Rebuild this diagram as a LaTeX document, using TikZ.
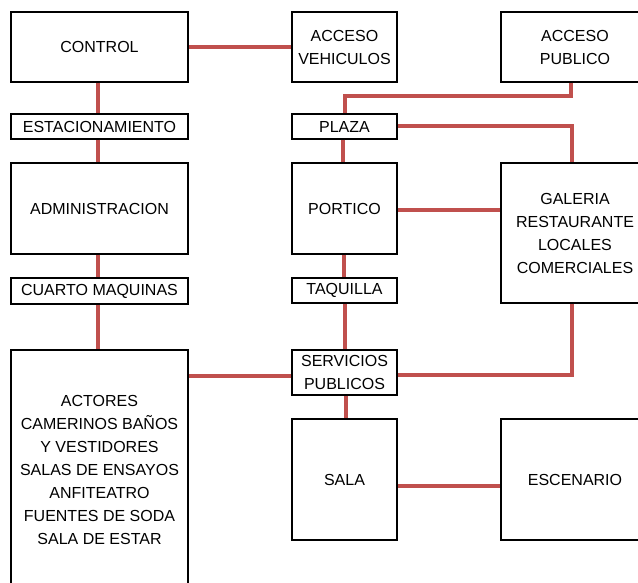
\documentclass[tikz,border=0pt]{standalone}
\usepackage{fontspec}
\setmainfont{Liberation Sans}
\definecolor{conn}{HTML}{C0504D}
\tikzset{
  box/.style={draw=black, line width=1.5pt, fill=white, inner sep=0pt, align=center,
    font=\fontsize{16}{23}\selectfont},
  link/.style={draw=conn, line width=4pt}
}
\begin{document}
\begin{tikzpicture}[x=1pt,y=-1pt]
\useasboundingbox (0,0) rectangle (638,583);
\clip (0,0) rectangle (638,583);
\fill[white] (0,0) rectangle (638,583);
% boxes
\node[box, minimum width=177, minimum height=70] (control) at (99.5,47) {CONTROL};
\node[box, minimum width=105, minimum height=70] (acv) at (344.5,47) {ACCESO\\VEHICULOS};
\node[box, minimum width=148, minimum height=70] (acp) at (575,47) {ACCESO\\PUBLICO};
\node[box, minimum width=177, minimum height=25] (estac) at (99.5,126.5) {ESTACIONAMIENTO};
\node[box, minimum width=105, minimum height=25] (plaza) at (344.5,126.5) {PLAZA};
\node[box, minimum width=177, minimum height=91] (admin) at (99.5,208.5) {ADMINISTRACION};
\node[box, minimum width=105, minimum height=91] (portico) at (344.5,208.5) {PORTICO};
\node[box, minimum width=148, minimum height=140] (galeria) at (575,233) {GALERIA\\RESTAURANTE\\LOCALES\\COMERCIALES};
\node[box, minimum width=177, minimum height=26] (cuarto) at (99.5,291) {CUARTO MAQUINAS};
\node[box, minimum width=105, minimum height=25] (taquilla) at (344.5,290.5) {TAQUILLA};
\node[box, minimum width=177, minimum height=240] (actores) at (99.5,470) {ACTORES\\CAMERINOS BAÑOS\\Y VESTIDORES\\SALAS DE ENSAYOS\\ANFITEATRO\\FUENTES DE SODA\\SALA DE ESTAR};
\node[box, minimum width=105, minimum height=45] (serv) at (344.5,372.5) {SERVICIOS\\PUBLICOS};
\node[box, minimum width=105, minimum height=121] (sala) at (344.5,479.5) {SALA};
\node[box, minimum width=148, minimum height=121] (esc) at (575,479.5) {ESCENARIO};
% connectors
\draw[link] (control.east) -- (acv.west);
\draw[link] ([xshift=-2pt]control.south) -- ([xshift=-2pt]estac.north);
\draw[link] ([xshift=-2pt]estac.south) -- ([xshift=-2pt]admin.north);
\draw[link] ([xshift=-2pt]admin.south) -- ([xshift=-2pt]cuarto.north);
\draw[link] ([xshift=-2pt]cuarto.south) -- ([xshift=-2pt]actores.north);
\draw[link] ([xshift=-4pt]acp.south) -- ++(0,13) -| (plaza.north);
\draw[link] (plaza.east) -| ([xshift=-3pt]galeria.north);
\draw[link] ([xshift=-2pt]plaza.south) -- ([xshift=-2pt]portico.north);
\draw[link] ([yshift=-2pt]portico.east) -- ([yshift=-2pt]portico.east -| galeria.west);
\draw[link] ([xshift=-1pt]portico.south) -- ([xshift=-1pt]taquilla.north);
\draw[link] (taquilla.south) -- (serv.north);
\draw[link] ([xshift=-3pt]galeria.south) |- ([yshift=-2pt]serv.east);
\draw[link] ([yshift=-3pt]serv.west) -- ([yshift=-3pt]serv.west -| actores.east);
\draw[link] ([xshift=1pt]serv.south) -- ([xshift=1pt]sala.north);
\draw[link] ([yshift=-6pt]sala.east) -- ([yshift=-6pt]esc.west);
\end{tikzpicture}
\end{document}
